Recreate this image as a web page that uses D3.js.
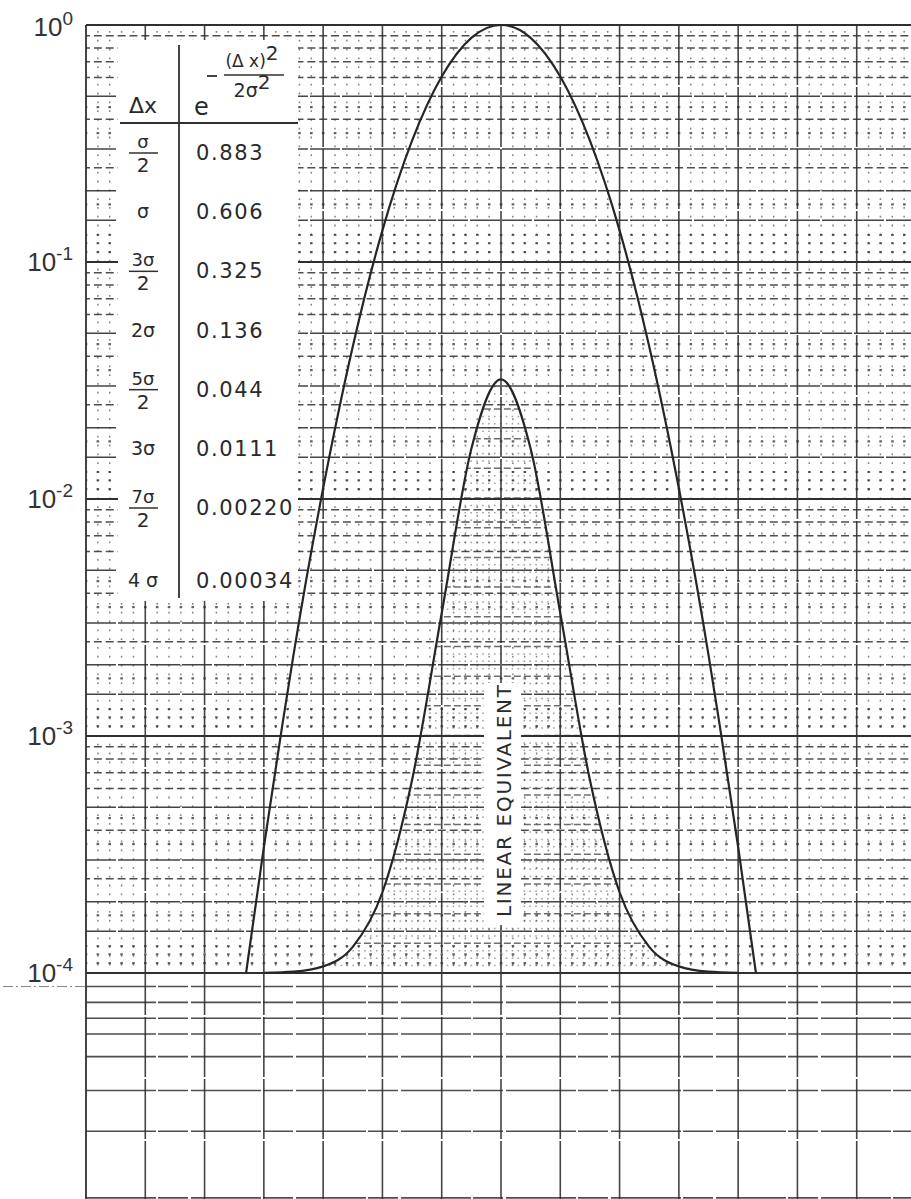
<!DOCTYPE html>
<html><head><meta charset="utf-8">
<script src="https://cdn.jsdelivr.net/npm/d3@7"></script>
<style>body{margin:0;background:#fff} svg{display:block}</style>
</head><body><svg id="c" width="911" height="1199"></svg>
<script>
// ---------------- data ----------------
const deltaX = [0, 0.5, 1, 1.5, 2, 2.5, 3, 3.5, 4, 4.3];          // in units of sigma
const gaussValues = [1, 0.883, 0.606, 0.325, 0.136, 0.044, 0.0111, 0.00220, 0.00034, 0.0001];
const linearPeakLevel = 0.032;                                      // log level reached by linear-equivalent peak
const decadeTicks = [1, 0.1, 0.01, 0.001, 0.0001];
const decadeExponents = ["0", "-1", "-2", "-3", "-4"];
const tableDxNum = ["σ", "σ", "3σ", "2σ", "5σ", "3σ", "7σ", "4 σ"];
const tableDxDen = ["2", "", "2", "", "2", "", "2", ""];
const tableValues = ["0.883", "0.606", "0.325", "0.136", "0.044", "0.0111", "0.00220", "0.00034"];
const sigmaLines = [-7, -6, -5, -4, -3, -2, -1, 0, 1, 2, 3, 4, 5, 6, 7];
const solidMantissas = [1.5, 2, 3, 5];
const dashedMantissas = [2.5, 4, 6, 7, 8, 9];
const dottedMantissas = [1.1, 1.2, 1.3, 1.75, 3.5, 4.5];
const decadeBases = [0.0001, 0.001, 0.01, 0.1];
const lowerRows = [0.06, 0.13, 0.2, 0.27, 0.37, 0.52, 0.7, 0.995];

// ---------------- scales ----------------
const svg = d3.select("#c");
const W = 911, H = 1199;
const x = d3.scaleLinear().domain([-7, 7]).range([86, 916]);
const y = d3.scaleLog().domain([1e-4, 1]).range([973, 25]);
const yLin = d3.scaleLinear().domain([0, 1]).range([y(1e-4), y(linearPeakLevel)]);
const yLow = d3.scaleLinear().domain([0, 1]).range([973, 1199]);
const ink = "#303030";
const font = "'DejaVu Sans', 'Liberation Sans', sans-serif";
const step = x(0.2) - x(0);

const grid = svg.append("g");

// minor vertical dotted lines (sigma/5)
const minorX = [];
sigmaLines.slice(0, -1).forEach(s => [0.2, 0.4, 0.6, 0.8].forEach(f => minorX.push(s + f)));
grid.selectAll(".mv").data(minorX).join("line")
  .attr("x1", d => x(d)).attr("x2", d => x(d))
  .attr("y1", y(1) + 6).attr("y2", y(1e-4))
  .attr("stroke", ink).attr("stroke-width", 1.5).attr("stroke-opacity", 0.6)
  .attr("stroke-dasharray", "1.8,7");

// horizontal log rows
function rows(mants, cls, width, dash, op, offset) {
  const vals = [];
  decadeBases.forEach(b => mants.forEach(m => vals.push(b * m)));
  grid.selectAll("." + cls).data(vals).join("line")
    .attr("x1", x(-7)).attr("x2", W)
    .attr("y1", d => y(d)).attr("y2", d => y(d))
    .attr("stroke", ink).attr("stroke-width", width).attr("stroke-opacity", op)
    .attr("stroke-dasharray", dash).attr("stroke-dashoffset", offset || 0);
}
rows(dottedMantissas, "hd", 2.2, `2.6,${(step - 2.6).toFixed(2)}`, 0.75, 1.3);
rows(dashedMantissas, "hm", 1.5, `8,${(step - 8).toFixed(2)}`, 0.85, 4);
rows(solidMantissas, "hs", 1.5, "30,2", 0.9);
grid.selectAll(".dec").data(decadeTicks).join("line")
  .attr("x1", x(-7)).attr("x2", W)
  .attr("y1", d => y(d)).attr("y2", d => y(d))
  .attr("stroke", ink).attr("stroke-width", d => d === 1 ? 2.2 : 1.9);

// lower linear section rows
grid.selectAll(".lr").data(lowerRows).join("line")
  .attr("x1", x(-7)).attr("x2", W)
  .attr("y1", d => yLow(d)).attr("y2", d => yLow(d))
  .attr("stroke", ink).attr("stroke-width", 1.6).attr("stroke-opacity", 0.85)
  .attr("stroke-dasharray", "70,2,30,3");
grid.append("line")
  .attr("x1", 3).attr("x2", x(-7)).attr("y1", yLow(lowerRows[0])).attr("y2", yLow(lowerRows[0]))
  .attr("stroke", ink).attr("stroke-width", 1).attr("stroke-opacity", 0.6)
  .attr("stroke-dasharray", "10,3,2,3");

// major vertical lines (every sigma)
grid.selectAll(".mj").data(sigmaLines).join("line")
  .attr("x1", d => x(d)).attr("x2", d => x(d))
  .attr("y1", y(1)).attr("y2", H)
  .attr("stroke", ink).attr("stroke-width", d => d === -7 ? 2 : 1.6)
  .attr("stroke-opacity", 0.9)
  .attr("stroke-dasharray", d => d === -7 ? null : "60,2");

// ---------------- inner (linear-equivalent) region texture ----------------
const innerPts = [];
deltaX.forEach((d, i) => { if (d <= 4) innerPts.push({ dx: d, v: gaussValues[i] }); });
const innerAll = innerPts.slice(1).map(p => ({ dx: -p.dx, v: p.v })).reverse().concat(innerPts);
const innerLine = d3.line().x(d => x(d.dx)).y(d => yLin(d.v)).curve(d3.curveMonotoneX);
const innerArea = d3.area().x(d => x(d.dx)).y0(yLin(0)).y1(d => yLin(d.v)).curve(d3.curveMonotoneX);
svg.append("clipPath").attr("id", "innerClip").append("path").attr("d", innerArea(innerAll));
const tex = svg.append("g").attr("clip-path", "url(#innerClip)");
tex.selectAll("line.fr").data(d3.range(0.0125, 1, 0.0125)).join("line")
  .attr("x1", x(-4)).attr("x2", x(4))
  .attr("y1", d => yLin(d)).attr("y2", d => yLin(d))
  .attr("stroke", ink).attr("stroke-width", 1.5)
  .attr("stroke-opacity", (d, i) => (i + 1) % 4 === 0 ? 0.7 : 0.45)
  .attr("stroke-dasharray", (d, i) => (i + 1) % 4 === 0 ? "7,3" : "1.6,4.3");

// ---------------- table ----------------
const tb = svg.append("g").attr("font-family", font).attr("fill", "#2a2a2a");
tb.append("rect").attr("x", 118).attr("y", 40).attr("width", 180).attr("height", 561).attr("fill", "#fff");
tb.append("line").attr("x1", 179).attr("x2", 179).attr("y1", 45).attr("y2", 598)
  .attr("stroke", ink).attr("stroke-width", 1.8);
tb.append("line").attr("x1", 120).attr("x2", 298).attr("y1", 123).attr("y2", 123)
  .attr("stroke", ink).attr("stroke-width", 1.8);
tb.append("text").attr("x", 143).attr("y", 113).attr("text-anchor", "middle")
  .attr("font-size", 22).text("Δx");
tb.append("text").attr("x", 194).attr("y", 115).attr("font-size", 24).text("e");
tb.append("line").attr("x1", 207).attr("x2", 217).attr("y1", 76).attr("y2", 76)
  .attr("stroke", ink).attr("stroke-width", 1.8);
tb.append("line").attr("x1", 224).attr("x2", 284).attr("y1", 75).attr("y2", 75)
  .attr("stroke", ink).attr("stroke-width", 1.6);
const num = tb.append("text").attr("x", 252).attr("y", 67).attr("text-anchor", "middle").attr("font-size", 17);
num.append("tspan").text("(Δ x)");
num.append("tspan").attr("dy", -7).attr("font-size", 20).text("2");
const den = tb.append("text").attr("x", 252).attr("y", 97).attr("text-anchor", "middle").attr("font-size", 19);
den.append("tspan").text("2σ");
den.append("tspan").attr("dy", -8).attr("font-size", 20).text("2");

const rowScale = d3.scaleLinear().domain([0, 6]).range([160, 515]);
const rowBase = i => i === 7 ? rowScale(6) + 73 : rowScale(i);
tableValues.forEach((v, i) => {
  const B = rowBase(i);
  tb.append("text").attr("x", 196).attr("y", B).attr("font-size", 21)
    .attr("letter-spacing", 1.6).text(v);
  if (tableDxDen[i]) {
    tb.append("text").attr("x", 143).attr("y", B - 12).attr("text-anchor", "middle")
      .attr("font-size", 18).text(tableDxNum[i]);
    tb.append("line").attr("x1", 129).attr("x2", 158).attr("y1", B - 7).attr("y2", B - 7)
      .attr("stroke", ink).attr("stroke-width", 1.5);
    tb.append("text").attr("x", 143).attr("y", B + 12).attr("text-anchor", "middle")
      .attr("font-size", 20).text(tableDxDen[i]);
  } else {
    tb.append("text").attr("x", 143).attr("y", B - 1).attr("text-anchor", "middle")
      .attr("font-size", 19).attr("xml:space", "preserve").text(tableDxNum[i]);
  }
});

// ---------------- curves ----------------
const outerPts = deltaX.map((d, i) => ({ dx: d, v: gaussValues[i] }));
const outerAll = outerPts.slice(1).map(p => ({ dx: -p.dx, v: p.v })).reverse().concat(outerPts);
const outerLine = d3.line().x(d => x(d.dx)).y(d => y(d.v)).curve(d3.curveNatural);
svg.append("path").attr("d", outerLine(outerAll)).attr("fill", "none")
  .attr("stroke", "#262626").attr("stroke-width", 2.2);
svg.append("path").attr("d", innerLine(innerAll)).attr("fill", "none")
  .attr("stroke", "#262626").attr("stroke-width", 2.2);

// ---------------- LINEAR EQUIVALENT label ----------------
svg.append("rect").attr("x", 484).attr("y", 683).attr("width", 37).attr("height", 242).attr("fill", "#fff");
svg.append("text")
  .attr("transform", `translate(${x(0) + 10},${801}) rotate(-90)`)
  .attr("text-anchor", "middle").attr("font-family", font).attr("font-size", 20)
  .attr("fill", "#2a2a2a").attr("textLength", 232).attr("lengthAdjust", "spacing")
  .text("LINEAR EQUIVALENT");

// ---------------- y labels ----------------
const lab = svg.append("g").attr("font-family", "'Liberation Sans', sans-serif").attr("fill", "#333");
decadeTicks.forEach((d, i) => {
  const t = lab.append("text").attr("x", 73).attr("y", y(d) + 9 + (i === 0 ? 2 : 0))
    .attr("text-anchor", "end").attr("font-size", 26);
  t.append("tspan").text("10");
  t.append("tspan").attr("dy", -11).attr("font-size", 19).text(decadeExponents[i]);
});
</script></body></html>
